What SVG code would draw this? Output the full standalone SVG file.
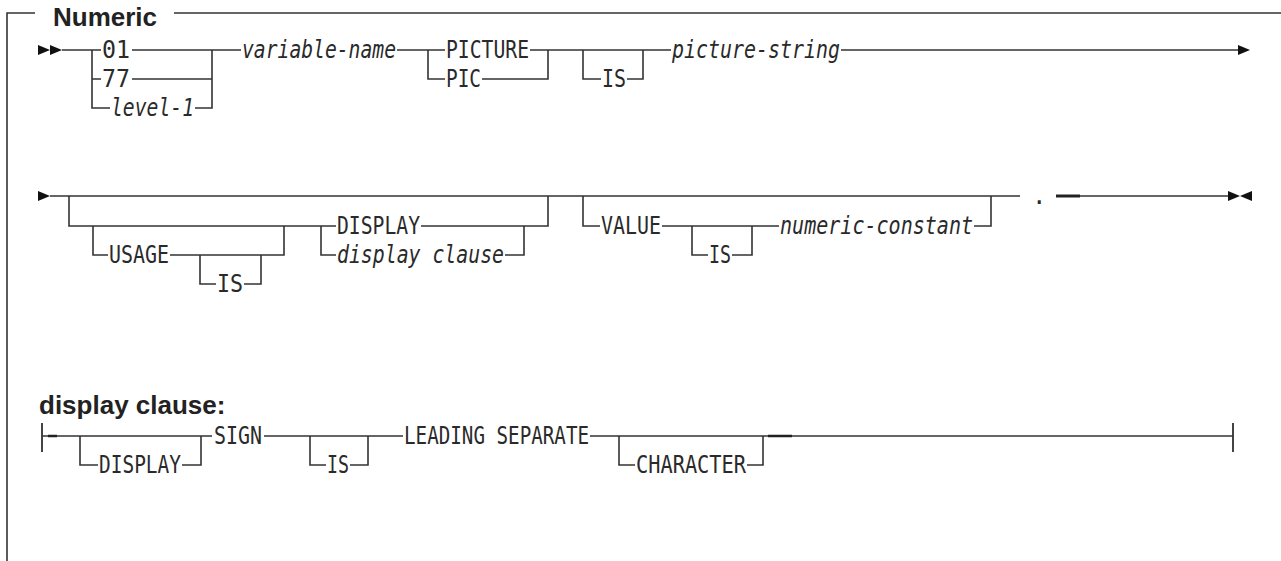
<svg xmlns="http://www.w3.org/2000/svg" width="1281" height="561" viewBox="0 0 1281 561">
<style>
.bg{fill:#fff}
.ln{fill:none;stroke:#333;stroke-width:1.6}
.thk{fill:none;stroke:#222;stroke-width:3}
.bar{fill:none;stroke:#444;stroke-width:2}
.ah{fill:#111}
.kw{font-family:"DejaVu Sans Mono","Liberation Mono",monospace;font-size:24px;fill:#2a2a2a}
.it{font-family:"DejaVu Sans Mono","Liberation Mono",monospace;font-size:24px;font-style:italic;fill:#2a2a2a}
.hd{font-family:"Liberation Sans",Arial,sans-serif;font-size:26px;font-weight:bold;fill:#222}
</style>
<defs>
<polygon id="tri" points="0,-5 12,0 0,5"/>
<polygon id="tril" points="12,-5 0,0 12,5"/>
</defs>
<rect class="bg" x="0" y="0" width="1281" height="561"/>
<g id="frame">
<path class="ln" d="M35,13 H7 V561 M174,13 H1281"/>
<text class="hd" x="53" y="26">Numeric</text>
</g>
<g id="connectors">
<use href="#tri" class="ah" x="38" y="50"/>
<use href="#tri" class="ah" x="50" y="50"/>
<path class="ln" d="M62,50 H101 M92,50 V108 H110 M92,79 H101 M132,50 H212 M132,79 H212 M195,108 H212 V50 M212,50 H241 M397,50 H445 M428,50 V79 H445 M530,50 H671 M482,79 H548 V50 M583,50 V79 H601 M627,79 H643 V50 M841,50 H1238"/>
<use href="#tri" class="ah" x="1238" y="50"/>
<use href="#tri" class="ah" x="38" y="196"/>
<path class="ln" d="M50,196 H1020 M69,196 V226 H336 M93,226 V255 H108 M170,255 H284 V226 M200,255 V284 H216 M244,284 H261 V255 M321,226 V255 H336 M421,226 H548 V196 M505,255 H524 V226 M583,196 V226 H600 M662,226 H779 M692,226 V255 H708 M732,255 H752 V226 M974,226 H991 V196 M1056,196 H1228"/>
<path class="thk" d="M1056,196 H1080"/>
<use href="#tri" class="ah" x="1228" y="196"/>
<use href="#tril" class="ah" x="1240" y="196"/>
<path class="bar" d="M42,423 V452 M1233,423 V452"/>
<path class="ln" d="M42,436 H212 M80,436 V465 H98 M182,465 H201 V436 M264,436 H403 M310,436 V465 H326 M350,465 H368 V436 M590,436 H1233 M619,436 V465 H635 M747,465 H763 V436"/>
<path class="thk" d="M48,436 H57 M768,436 H792" style="stroke-width:2.4"/>
</g>
<g id="row1">
<g id="n-01"><text class="kw" x="102" y="58" textLength="28" lengthAdjust="spacingAndGlyphs">01</text></g>
<g id="n-77"><text class="kw" x="102" y="87" textLength="28" lengthAdjust="spacingAndGlyphs">77</text></g>
<g id="n-level1"><text class="it" x="111" y="116" textLength="83" lengthAdjust="spacingAndGlyphs">level-1</text></g>
<g id="n-varname"><text class="it" x="242" y="58" textLength="154" lengthAdjust="spacingAndGlyphs">variable-name</text></g>
<g id="n-picture"><text class="kw" x="446" y="58" textLength="83" lengthAdjust="spacingAndGlyphs">PICTURE</text></g>
<g id="n-pic"><text class="kw" x="446" y="87" textLength="35" lengthAdjust="spacingAndGlyphs">PIC</text></g>
<g id="n-is1"><text class="kw" x="602" y="87" textLength="24" lengthAdjust="spacingAndGlyphs">IS</text></g>
<g id="n-picstr"><text class="it" x="672" y="58" textLength="168" lengthAdjust="spacingAndGlyphs">picture-string</text></g>
</g>
<g id="row2">
<g id="n-usage"><text class="kw" x="109" y="263" textLength="60" lengthAdjust="spacingAndGlyphs">USAGE</text></g>
<g id="n-is2"><text class="kw" x="217" y="292" textLength="26" lengthAdjust="spacingAndGlyphs">IS</text></g>
<g id="n-display"><text class="kw" x="337" y="234" textLength="83" lengthAdjust="spacingAndGlyphs">DISPLAY</text></g>
<g id="n-dispclause"><text class="it" x="337" y="263" textLength="167" lengthAdjust="spacingAndGlyphs">display clause</text></g>
<g id="n-value"><text class="kw" x="601" y="234" textLength="60" lengthAdjust="spacingAndGlyphs">VALUE</text></g>
<g id="n-is3"><text class="kw" x="709" y="263" textLength="22" lengthAdjust="spacingAndGlyphs">IS</text></g>
<g id="n-numconst"><text class="it" x="780" y="234" textLength="193" lengthAdjust="spacingAndGlyphs">numeric-constant</text></g>
<g id="n-dot"><text class="kw" x="1032" y="204">.</text></g>
</g>
<g id="row3">
<text class="hd" x="39" y="414">display clause:</text>
<g id="n-display2"><text class="kw" x="99" y="473" textLength="82" lengthAdjust="spacingAndGlyphs">DISPLAY</text></g>
<g id="n-sign"><text class="kw" x="214" y="444" textLength="48" lengthAdjust="spacingAndGlyphs">SIGN</text></g>
<g id="n-is4"><text class="kw" x="327" y="473" textLength="22" lengthAdjust="spacingAndGlyphs">IS</text></g>
<g id="n-leading"><text class="kw" x="404" y="444" textLength="185" lengthAdjust="spacingAndGlyphs">LEADING SEPARATE</text></g>
<g id="n-character"><text class="kw" x="636" y="473" textLength="110" lengthAdjust="spacingAndGlyphs">CHARACTER</text></g>
</g>
</svg>
